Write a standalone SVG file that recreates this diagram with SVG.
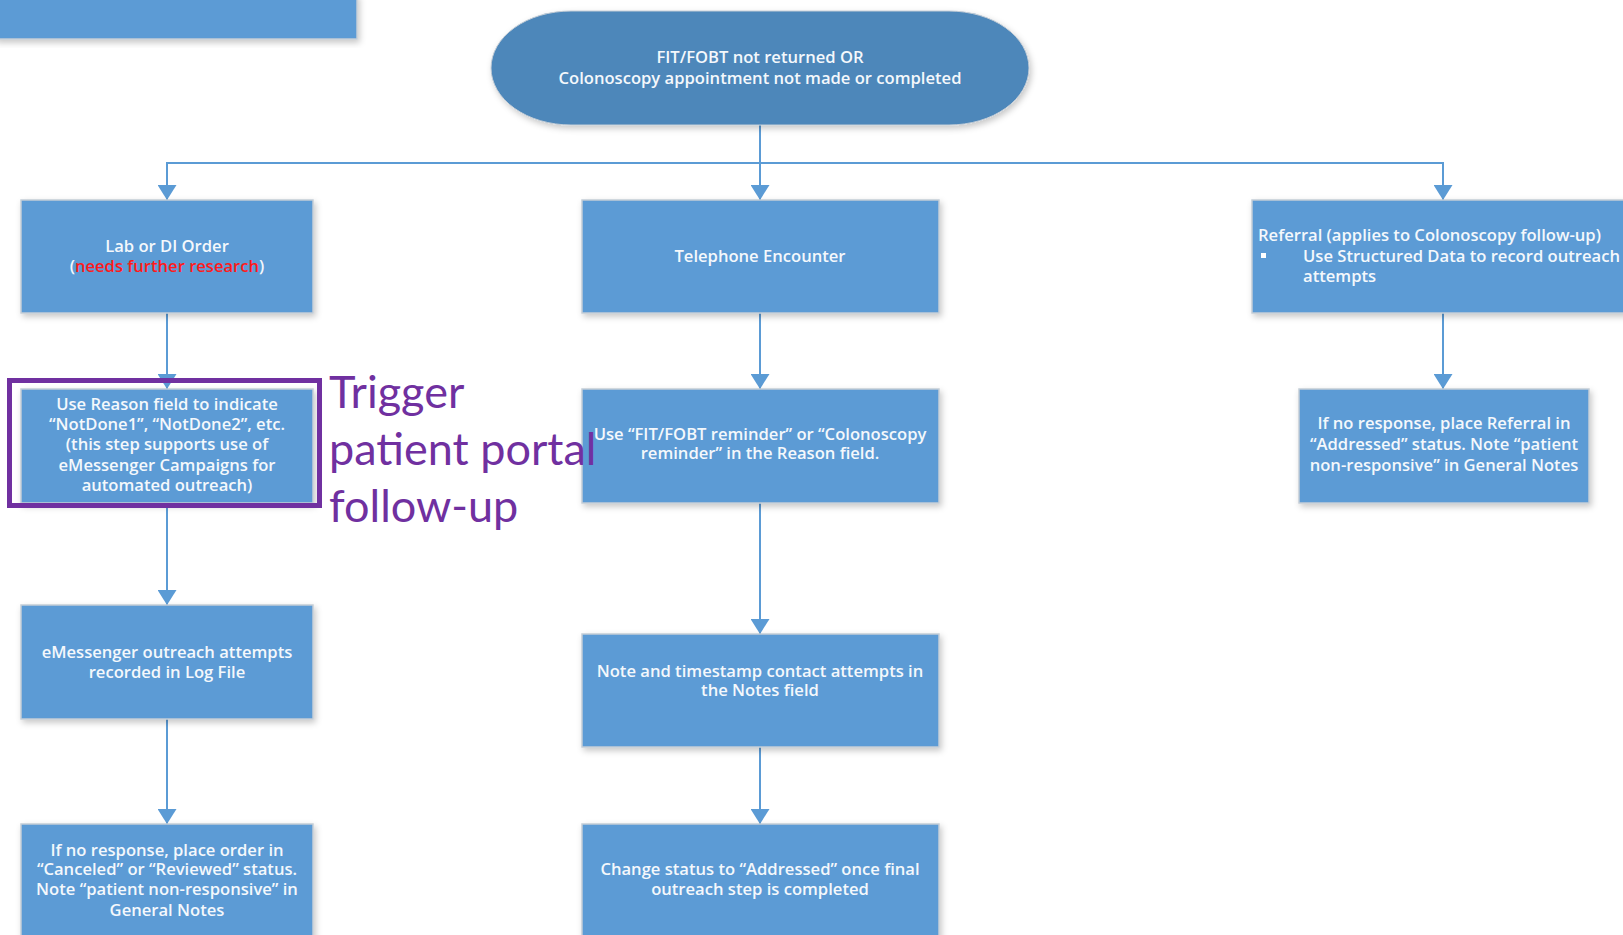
<svg xmlns="http://www.w3.org/2000/svg" width="1623" height="935" viewBox="0 0 1623 935">
  <style>
    .box { fill: #5B9BD5; stroke: #C4CDD6; stroke-width: 1.5; filter: url(#shadow); }
    .start { fill: #4D87BA; stroke: #C4CDD6; stroke-width: 1; filter: url(#shadow); }
    .lbl { font-family: "Open Sans", "Liberation Sans", sans-serif; font-size: 16.6px; font-weight: 600; fill: #F4F8FC; text-anchor: middle; }
    .lft { text-anchor: start; }
    .warn { fill: #FF1A1A; }
    .conn { fill: none; stroke: #5B9BD5; stroke-width: 2; }
    .note { font-family: Lato, "Open Sans", sans-serif; font-size: 45px; fill: #7030A0; }
  </style>
  <defs>
    <filter id="shadow" x="-10%" y="-10%" width="125%" height="130%">
      <feDropShadow dx="2" dy="3" stdDeviation="3" flood-color="#000000" flood-opacity="0.22"/>
    </filter>
    <marker id="arrow" markerUnits="userSpaceOnUse" markerWidth="15" markerHeight="19" refX="15" refY="9.5" orient="auto">
      <path d="M0,0 L15,9.5 L0,19 Z" fill="#5B9BD5"/>
    </marker>
  </defs>

  <rect width="1623" height="935" fill="#FFFFFF"/>

  <!-- header bar, top left -->
  <rect x="-5" y="-5" width="362" height="44" class="box"/>

  <!-- connectors -->
  <g id="connectors">
    <path class="conn" d="M760,125 V200" marker-end="url(#arrow)"/>
    <path class="conn" d="M760,163 H167 V200" marker-end="url(#arrow)"/>
    <path class="conn" d="M760,163 H1443 V200" marker-end="url(#arrow)"/>
    <path class="conn" d="M167,313 V389" marker-end="url(#arrow)"/>
    <path class="conn" d="M167,503 V605" marker-end="url(#arrow)"/>
    <path class="conn" d="M167,719 V824" marker-end="url(#arrow)"/>
    <path class="conn" d="M760,313 V389" marker-end="url(#arrow)"/>
    <path class="conn" d="M760,503 V634" marker-end="url(#arrow)"/>
    <path class="conn" d="M760,747 V824" marker-end="url(#arrow)"/>
    <path class="conn" d="M1443,313 V389" marker-end="url(#arrow)"/>
  </g>

  <g id="start">
    <rect x="491" y="11" width="538" height="114" rx="80" ry="57" class="start"/>
    <text class="lbl" x="760" y="63">FIT/FOBT not returned OR</text>
    <text class="lbl" x="760" y="84">Colonoscopy appointment not made or completed</text>
  </g>

  <g id="lab-order">
    <rect x="21" y="200" width="292" height="113" class="box"/>
    <text class="lbl" x="167" y="252">Lab or DI Order</text>
    <text class="lbl" x="167" y="272">(<tspan class="warn">needs further research</tspan>)</text>
  </g>

  <g id="telephone">
    <rect x="582" y="200" width="357" height="113" class="box"/>
    <text class="lbl" x="760" y="262">Telephone Encounter</text>
  </g>

  <g id="referral">
    <rect x="1252" y="200" width="400" height="113" class="box"/>
    <text class="lbl lft" x="1258" y="241">Referral (applies to Colonoscopy follow-up)</text>
    <rect x="1261" y="253" width="5" height="5" fill="#FFFFFF"/>
    <text class="lbl lft" x="1303" y="262">Use Structured Data to record outreach</text>
    <text class="lbl lft" x="1303" y="282">attempts</text>
  </g>

  <g id="reason-field">
    <rect x="21" y="389" width="292" height="114" class="box"/>
    <text class="lbl" x="167" y="410">Use Reason field to indicate</text>
    <text class="lbl" x="167" y="430">“NotDone1”, “NotDone2”, etc.</text>
    <text class="lbl" x="167" y="450">(this step supports use of</text>
    <text class="lbl" x="167" y="471">eMessenger Campaigns for</text>
    <text class="lbl" x="167" y="491">automated outreach)</text>
  </g>

  <g id="reminder">
    <rect x="582" y="389" width="357" height="114" class="box"/>
    <text class="lbl" x="760" y="440">Use “FIT/FOBT reminder” or “Colonoscopy</text>
    <text class="lbl" x="760" y="459">reminder” in the Reason field.</text>
  </g>

  <g id="referral-addressed">
    <rect x="1299" y="389" width="290" height="114" class="box"/>
    <text class="lbl" x="1444" y="429">If no response, place Referral in</text>
    <text class="lbl" x="1444" y="450">“Addressed” status. Note “patient</text>
    <text class="lbl" x="1444" y="471">non-responsive” in General Notes</text>
  </g>

  <g id="log-file">
    <rect x="21" y="605" width="292" height="114" class="box"/>
    <text class="lbl" x="167" y="658">eMessenger outreach attempts</text>
    <text class="lbl" x="167" y="678">recorded in Log File</text>
  </g>

  <g id="timestamp">
    <rect x="582" y="634" width="357" height="113" class="box"/>
    <text class="lbl" x="760" y="677">Note and timestamp contact attempts in</text>
    <text class="lbl" x="760" y="696">the Notes field</text>
  </g>

  <g id="order-status">
    <rect x="21" y="824" width="292" height="130" class="box"/>
    <text class="lbl" x="167" y="856">If no response, place order in</text>
    <text class="lbl" x="167" y="875">“Canceled” or “Reviewed” status.</text>
    <text class="lbl" x="167" y="895">Note “patient non-responsive” in</text>
    <text class="lbl" x="167" y="916">General Notes</text>
  </g>

  <g id="status-addressed">
    <rect x="582" y="824" width="357" height="130" class="box"/>
    <text class="lbl" x="760" y="875">Change status to “Addressed” once final</text>
    <text class="lbl" x="760" y="895">outreach step is completed</text>
  </g>

  <!-- callout highlighting the reason-field step -->
  <g id="portal-callout">
    <rect x="9.5" y="380.5" width="310" height="125" fill="none" stroke="#7030A0" stroke-width="5"/>
    <text class="note" x="329" y="408">Trigger</text>
    <text class="note" x="329" y="465">patient portal</text>
    <text class="note" x="329" y="522">follow-up</text>
  </g>
</svg>
